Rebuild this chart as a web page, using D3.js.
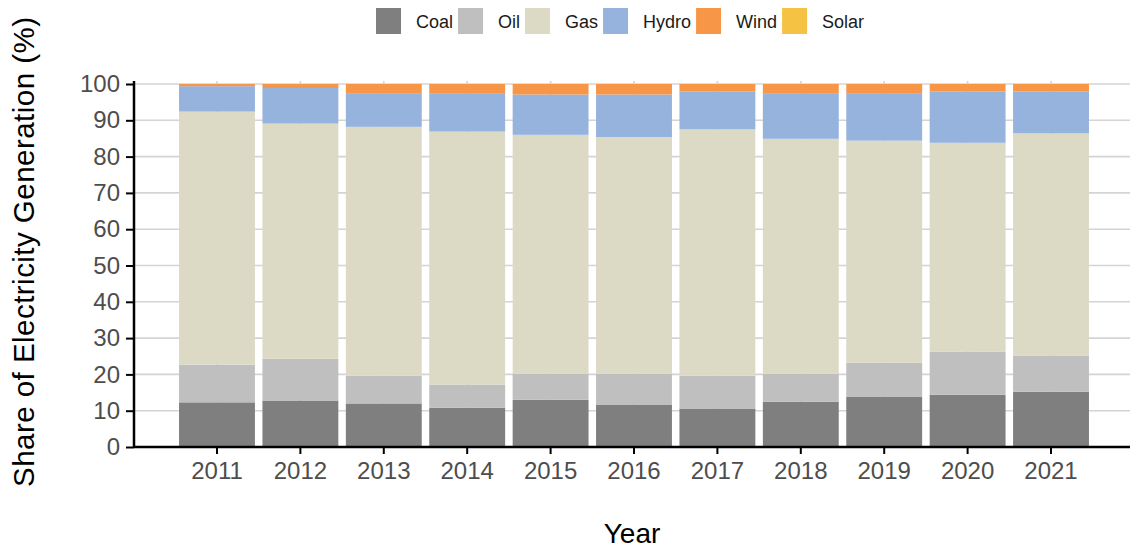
<!DOCTYPE html>
<html>
<head>
<meta charset="utf-8">
<script src="https://cdn.jsdelivr.net/npm/d3@7"></script>
<style>
  body { margin: 0; background: #fff; }
  svg { font-family: "Liberation Sans", Arial, sans-serif; }
</style>
</head>
<body>
<svg width="1130" height="548"></svg>
<script>
// values (% of generation)
var years = ["2011","2012","2013","2014","2015","2016","2017","2018","2019","2020","2021"];
var coal  = [12.3, 12.8, 12.0, 10.8, 13.0, 11.7, 10.6, 12.5, 13.9, 14.4, 15.2];
var oil   = [10.4, 11.5, 7.6, 6.4, 7.2, 8.5, 9.0, 7.7, 9.3, 11.9, 10.0];
var gas   = [69.7, 64.8, 68.6, 69.7, 65.8, 65.2, 67.9, 64.7, 61.2, 57.5, 61.2];
var hydro = [7.0, 9.8, 9.1, 10.4, 11.1, 11.7, 10.4, 12.4, 12.9, 14.1, 11.5];
var wind  = [0.6, 1.1, 2.7, 2.7, 2.9, 2.9, 2.1, 2.7, 2.7, 2.1, 2.1];
var solar = [0, 0, 0, 0, 0, 0, 0, 0, 0, 0, 0];

var sources = ["Coal","Oil","Gas","Hydro","Wind","Solar"];
var colors  = ["#7f7f7f","#bfbfbf","#dcdac5","#96b3de","#f79646","#f5c243"];
var yTicks  = [0,10,20,30,40,50,60,70,80,90,100];

var rows = years.map(function(y, i) {
  return {year: y, Coal: coal[i], Oil: oil[i], Gas: gas[i], Hydro: hydro[i], Wind: wind[i], Solar: solar[i]};
});

var svg = d3.select("svg");
var pLeft = 134, pRight = 1130, pTop = 81, pBottom = 447;

var x = d3.scaleBand()
    .domain(years)
    .range([pLeft, 1134])
    .paddingInner(0.09)
    .paddingOuter(0.54);

var y = d3.scaleLinear()
    .domain([0, 100])
    .range([pBottom, 84]);

var color = d3.scaleOrdinal().domain(sources).range(colors);

var series = d3.stack().keys(sources)(rows);

// gridlines
svg.append("g").selectAll("line")
    .data(yTicks)
    .join("line")
    .attr("x1", pLeft).attr("x2", pRight)
    .attr("y1", d => y(d)).attr("y2", d => y(d))
    .attr("stroke", "#d4d4d4").attr("stroke-width", 1.6);

svg.append("g").selectAll("line")
    .data(years)
    .join("line")
    .attr("x1", d => x(d) + x.bandwidth() / 2).attr("x2", d => x(d) + x.bandwidth() / 2)
    .attr("y1", pTop).attr("y2", pBottom)
    .attr("stroke", "#d4d4d4").attr("stroke-width", 1.6);

// bars
svg.append("g").selectAll("g")
    .data(series)
    .join("g")
    .attr("fill", d => color(d.key))
    .selectAll("rect")
    .data(d => d)
    .join("rect")
    .attr("x", d => x(d.data.year))
    .attr("width", x.bandwidth())
    .attr("y", d => y(d[1]))
    .attr("height", d => y(d[0]) - y(d[1]));

// axes
var yAxis = svg.append("g")
    .attr("transform", "translate(" + pLeft + ",0)")
    .call(d3.axisLeft(y).tickValues(yTicks).tickSize(8).tickPadding(6));
yAxis.select(".domain").attr("d", "M0," + pTop + "V" + pBottom).attr("stroke", "#000").attr("stroke-width", 2.5);
yAxis.selectAll(".tick line").attr("stroke", "#000").attr("stroke-width", 2);
yAxis.selectAll(".tick text").attr("fill", "#4d4d4d").style("font-size", "24px")
    .style("font-family", "Liberation Sans, Arial, sans-serif");

var xAxis = svg.append("g")
    .attr("transform", "translate(0," + pBottom + ")")
    .call(d3.axisBottom(x).tickSize(7).tickPadding(8));
xAxis.select(".domain").attr("d", "M" + pLeft + ",0H" + pRight).attr("stroke", "#000").attr("stroke-width", 2.5);
xAxis.selectAll(".tick line").attr("stroke", "#000").attr("stroke-width", 2);
xAxis.selectAll(".tick text").attr("fill", "#4d4d4d").style("font-size", "24px")
    .style("font-family", "Liberation Sans, Arial, sans-serif");

// axis titles
svg.append("text")
    .attr("x", (pLeft + pRight) / 2)
    .attr("y", 543)
    .attr("text-anchor", "middle")
    .style("font-size", "28px")
    .attr("fill", "#000")
    .text("Year");

svg.append("text")
    .attr("transform", "translate(34,252) rotate(-90)")
    .attr("text-anchor", "middle")
    .attr("textLength", 470)
    .attr("lengthAdjust", "spacing")
    .style("font-size", "29.5px")
    .attr("fill", "#000")
    .text("Share of Electricity Generation (%)");

// legend
var lx = 376;
sources.forEach(function(s) {
  svg.append("rect")
      .attr("x", lx).attr("y", 8)
      .attr("width", 25).attr("height", 26)
      .attr("fill", color(s));
  var t = svg.append("text")
      .attr("x", lx + 40).attr("y", 28)
      .style("font-size", "18px")
      .attr("fill", "#1a1a1a")
      .text(s);
  lx = lx + 40 + t.node().getComputedTextLength() + 5;
});
</script>
</body>
</html>
